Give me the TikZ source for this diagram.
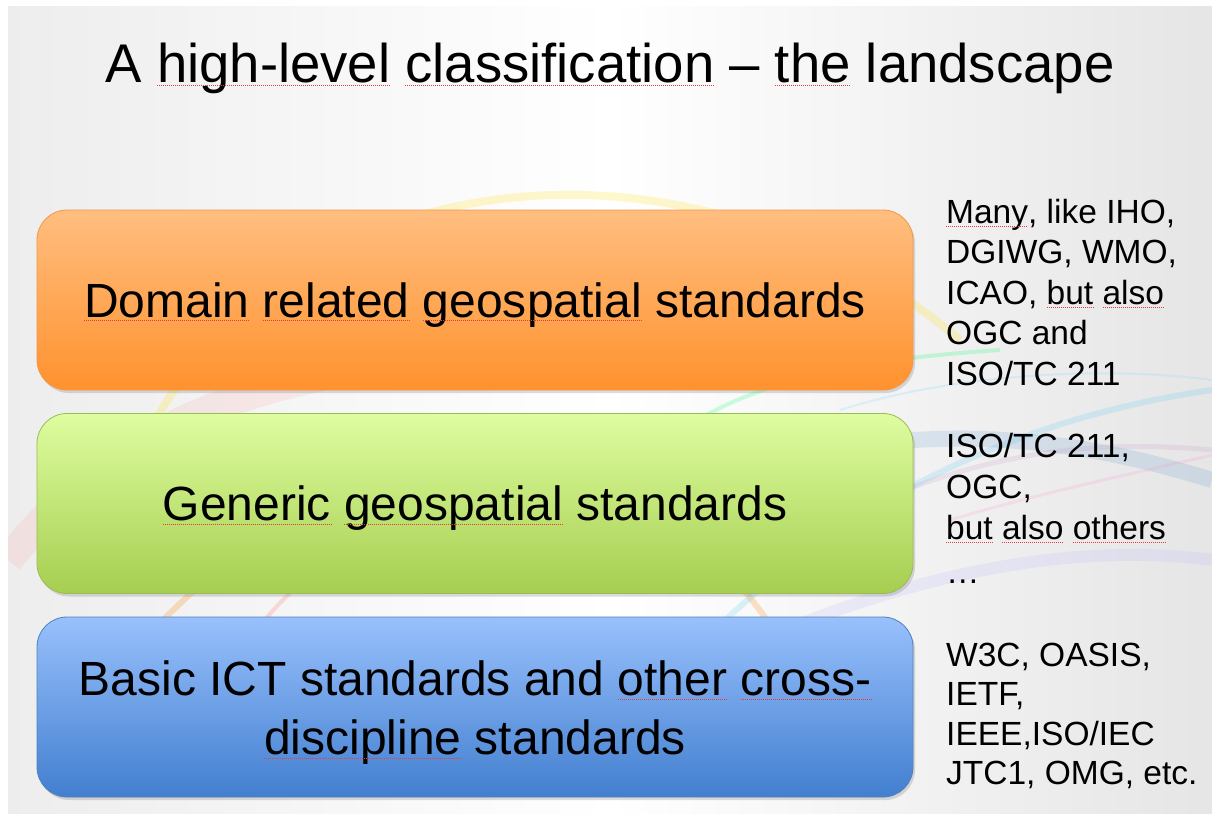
\documentclass[tikz,border=0pt]{standalone}
\usepackage{fontspec}
\setmainfont{Liberation Sans}
\usetikzlibrary{shadows}
\definecolor{sqred}{RGB}{232,60,60}
\definecolor{ortop}{RGB}{255,190,128}
\definecolor{orbot}{RGB}{255,146,46}
\definecolor{ordraw}{RGB}{242,152,72}
\definecolor{grtop}{RGB}{222,253,160}
\definecolor{grbot}{RGB}{166,206,80}
\definecolor{grdraw}{RGB}{155,187,89}
\definecolor{bltop}{RGB}{152,192,252}
\definecolor{blbot}{RGB}{66,127,207}
\definecolor{bldraw}{RGB}{79,129,189}
\newcommand\sq[1]{{\setbox0=\hbox{#1}\copy0\llap{\color{sqred}\tikz[overlay]{%
  \draw[color=sqred, line width=0.8pt, dash pattern=on 1pt off 1pt] (-\the\wd0,-3.2pt) -- (0pt,-3.2pt);}}}}
\begin{document}
\begin{tikzpicture}[x=1pt,y=-1pt,
  every node/.style={text=black},
  catbox/.style={rounded corners=30pt, minimum width=876pt, minimum height=180pt,
    inner sep=0pt, line width=0.8pt,
    drop shadow={opacity=0.28,shadow xshift=2pt,shadow yshift=-3pt},
    font=\fontsize{48}{59}\selectfont, text height=34.4pt, text depth=0pt},
  side/.style={anchor=north west, align=left, inner sep=0pt}]
\useasboundingbox (0,0) rectangle (1212,815);
\fill[white] (0,0) rectangle (1212,815);
\shade[left color=gray!14, right color=gray!20, middle color=white] (8,6) rectangle (1212,813);
% decorative swooshes
\begin{scope}
\clip (8,6) rectangle (1212,813);
\draw[yellow!80!orange, opacity=.2, line width=8pt] (150,430) .. controls (300,150) and (700,120) .. (960,340);
\draw[orange, opacity=.22, line width=6pt] (60,760) .. controls (250,420) and (620,380) .. (780,640);
\draw[red!50, opacity=.12, line width=30pt] (8,560) .. controls (120,420) and (260,380) .. (420,360);
\draw[red!70, opacity=.18, line width=4pt] (200,720) .. controls (280,560) and (380,520) .. (520,480);
\draw[cyan!60, opacity=.22, line width=6pt] (650,700) .. controls (800,520) and (1000,420) .. (1212,390);
\draw[cyan!50!blue, opacity=.12, line width=16pt] (700,480) .. controls (900,420) and (1050,430) .. (1212,480);
\draw[violet!50, opacity=.15, line width=5pt] (880,500) .. controls (1000,450) and (1100,440) .. (1212,450);
\draw[blue!30, opacity=.18, line width=12pt] (760,640) .. controls (950,560) and (1100,545) .. (1212,560);
\draw[green!60!cyan, opacity=.2, line width=4pt] (680,430) .. controls (760,380) and (850,360) .. (1000,350);
\draw[cyan!40, opacity=.3, line width=2pt] (840,410) .. controls (950,375) and (1100,365) .. (1212,380);
\draw[magenta!40, opacity=.2, line width=3pt] (950,520) .. controls (1050,490) and (1150,470) .. (1212,455);
\end{scope}
% title
\node[anchor=base, inner sep=0pt, font=\fontsize{54.5}{60}\selectfont] (title) at (610,82)
  {A \sq{high-level} \sq{classification} – \sq{the} landscape};
% boxes
\node[catbox, draw=ordraw, top color=ortop, bottom color=orbot] (domain) at (475,300)
  {\sq{Domain} \sq{related} \sq{geospatial} standards};
\node[catbox, draw=grdraw, top color=grtop, bottom color=grbot] (generic) at (475,503.5)
  {\sq{Generic} \sq{geospatial} standards};
\node[catbox, draw=bldraw, top color=bltop, bottom color=blbot] (basic) at (475,707) {};
\node[anchor=north, align=center, inner sep=0pt, font=\fontsize{48}{59}\selectfont] (basictext) at (475,661)
  {Basic ICT standards and \sq{other} \sq{cross-}\\\sq{discipline} standards};
% side texts
\node[side, font=\fontsize{33.5}{40.5}\selectfont] (g1) at (946,198.6)
  {\sq{Many}, like IHO,\\DGIWG, WMO,\\ICAO, \sq{but} \sq{also}\\OGC and\\ISO/TC 211};
\node[side, font=\fontsize{33.5}{41}\selectfont] (g2) at (946,432.6)
  {ISO/TC 211,\\OGC,\\\sq{but} \sq{also} \sq{others}\\[3pt]…};
\node[side, font=\fontsize{33.5}{39.4}\selectfont] (g3) at (946,642.6)
  {W3C, OASIS,\\IETF,\\IEEE,ISO/IEC\\JTC1, OMG, etc.};
\end{tikzpicture}
\end{document}
